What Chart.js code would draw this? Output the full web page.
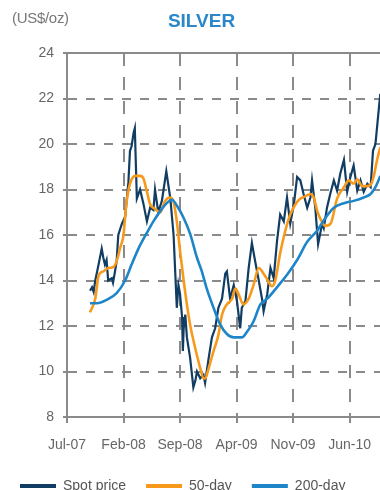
<!DOCTYPE html>
<html><head><meta charset="utf-8">
<script src="https://cdn.jsdelivr.net/npm/chart.js@4"></script>
<style>
html,body{margin:0;padding:0;background:#fff;overflow:hidden;}
#wrap{position:relative;width:385px;height:503px;}
#unit{position:absolute;left:12px;top:9px;font-size:15px;line-height:17px;font-family:'Liberation Sans',Arial,sans-serif;color:#777;letter-spacing:-0.3px;}
#title{position:absolute;left:0;width:403px;text-align:center;top:11px;font-weight:bold;font-size:19px;line-height:19px;font-family:'Liberation Sans',Arial,sans-serif;color:#2b87c9;}
canvas{position:absolute;left:0;top:0;}
</style></head>
<body>
<div id="wrap">
<canvas id="c" width="385" height="503"></canvas>
<div id="unit">(US$/oz)</div>
<div id="title">SILVER</div>
</div>
<script>
const tickMonths=[0,7,14,21,28,35];
const tickLabels=["Jul-07","Feb-08","Sep-08","Apr-09","Nov-09","Jun-10"];
const yTicks=[8,10,12,14,16,18,20,22,24];
const seriesNames=["Spot price","50-day","200-day"];

const spotMonths=[2.85,3.1,3.3,3.5,3.85,4.3,4.5,4.7,4.9,5.1,5.55,5.7,5.9,6.15,6.35,6.8,7.2,7.6,7.8,8.0,8.25,8.4,8.65,9.05,9.45,9.9,10.3,10.7,10.9,11.3,11.75,12.3,12.8,13.2,13.4,13.6,13.8,14.0,14.25,14.35,14.45,14.65,14.85,15.25,15.65,15.9,16.1,16.5,16.9,17.1,17.55,17.95,18.35,18.75,19.2,19.6,19.8,20.2,20.65,21.05,21.45,21.65,22.1,22.5,22.9,23.3,23.75,24.15,24.35,24.8,25.2,25.6,26.0,26.4,26.85,27.25,27.65,28.1,28.5,28.9,29.3,29.75,30.15,30.35,30.75,31.1,31.6,31.8,32.2,32.6,33.05,33.45,33.85,34.3,34.7,35.1,35.5,35.95,36.35,36.75,37.2,37.6,37.9,38.2,38.5,38.8,39.0];
const spotValues=[13.55,13.7,13.5,14.0,14.6,15.4,15.0,14.7,14.9,14.0,14.1,13.9,14.3,14.85,16.0,16.5,16.8,18.3,19.7,19.9,20.5,20.7,17.6,18.0,17.4,16.6,17.2,17.1,18.0,17.0,17.5,18.8,17.6,16.0,14.4,12.8,13.8,13.4,12.4,10.9,11.9,12.5,11.5,10.6,9.3,9.6,10.0,9.7,9.85,9.5,10.6,11.5,11.9,12.8,13.2,14.3,14.4,13.2,13.8,13.1,11.9,12.8,13.1,14.55,15.65,14.85,14.0,13.2,12.65,13.4,14.55,14.1,15.7,16.9,16.6,17.65,16.5,17.35,18.55,18.4,17.8,17.2,17.65,18.4,17.2,15.6,16.5,16.3,17.2,17.8,18.4,17.95,18.7,19.3,17.9,18.55,19.05,17.95,18.4,17.9,18.25,18.1,19.7,20.0,21.1,22.2,22.6];

const ma50Months=[2.85,3.5,3.9,4.5,5.1,5.75,6.15,6.6,7.0,7.2,7.4,7.8,8.45,9.05,9.45,9.9,10.3,10.9,11.55,12.15,12.8,13.2,13.6,14.0,14.45,14.85,15.25,15.9,16.5,16.9,17.1,17.55,18.15,18.75,19.2,19.8,20.45,20.85,21.25,21.85,22.5,23.1,23.75,24.35,24.8,25.4,25.8,26.4,27.05,27.65,28.3,28.9,29.5,30.15,30.55,31.0,31.4,32.0,32.65,33.45,34.3,34.9,35.5,35.95,36.55,37.2,37.6,38.0,38.4,38.8,39.0];
const ma50Values=[12.6,13.2,14.2,14.4,14.55,14.6,14.85,15.45,16.0,16.8,17.5,18.25,18.6,18.6,18.5,17.9,17.35,17.15,17.0,17.5,17.65,17.45,16.6,15.3,14.0,12.95,12.05,11.0,10.15,9.7,9.7,10.15,10.9,11.6,12.5,12.95,13.2,13.65,13.4,12.95,13.2,13.8,14.55,14.3,14.05,13.75,14.0,15.2,16.2,16.9,17.35,17.6,17.7,17.8,17.65,17.05,16.7,16.4,16.5,17.6,18.1,18.4,18.25,18.45,18.15,18.15,18.2,18.6,19.3,19.85,20.1];

const ma200Months=[2.85,3.7,4.9,6.15,7.2,8.0,8.85,9.9,10.7,11.55,12.35,13.0,13.6,14.45,15.25,16.1,16.7,17.3,18.15,19.0,19.8,20.65,21.65,22.3,23.1,23.95,24.8,26.0,27.25,28.5,29.75,31.0,32.0,33.05,34.3,35.5,36.75,37.6,38.2,38.8,39.0];
const ma200Values=[13.0,13.0,13.15,13.45,14.0,14.7,15.4,16.1,16.6,17.05,17.4,17.55,17.3,16.75,16.05,15.0,14.4,13.65,12.8,12.05,11.65,11.5,11.5,11.75,12.2,12.95,13.2,13.7,14.25,14.9,15.7,16.2,16.75,17.2,17.4,17.5,17.65,17.8,18.1,18.6,18.8];

const colors=["#123d63","#f79a1c","#1e86c8"];
const fam="'Liberation Sans',Arial,sans-serif";
const gridColor="#8a8a8a";

function pts(xs,ys){return xs.map((x,i)=>({x:x,y:ys[i]}));}

const topLine={id:'topLine',beforeDatasetsDraw(chart){
  const a=chart.chartArea,ctx=chart.ctx;
  const y=chart.scales.y.getPixelForValue(yTicks[yTicks.length-1]);
  ctx.save();ctx.strokeStyle=gridColor;ctx.lineWidth=2;ctx.setLineDash([]);
  ctx.beginPath();ctx.moveTo(a.left,y);ctx.lineTo(a.right,y);ctx.stroke();ctx.restore();
}};

new Chart(document.getElementById('c'),{
  type:'line',
  data:{datasets:[
    {label:seriesNames[0],data:pts(spotMonths,spotValues),borderColor:colors[0],backgroundColor:colors[0],borderWidth:2.2,pointRadius:0,tension:0,order:3},
    {label:seriesNames[1],data:pts(ma50Months,ma50Values),borderColor:colors[1],backgroundColor:colors[1],borderWidth:2.6,pointRadius:0,cubicInterpolationMode:'monotone',order:2},
    {label:seriesNames[2],data:pts(ma200Months,ma200Values),borderColor:colors[2],backgroundColor:colors[2],borderWidth:2.6,pointRadius:0,cubicInterpolationMode:'monotone',order:1}
  ]},
  plugins:[topLine],
  options:{
    responsive:false,animation:false,
    layout:{padding:{left:0,right:0,top:53,bottom:0}},
    plugins:{
      title:{display:false},tooltip:{enabled:false},
      legend:{display:true,position:'bottom',align:'start',
        labels:{boxWidth:36,boxHeight:4,padding:20,color:'#555',font:{family:fam,size:14},
          sort:(a,b)=>a.datasetIndex-b.datasetIndex,
          generateLabels:(chart)=>{
            const items=Chart.defaults.plugins.legend.labels.generateLabels(chart);
            items.forEach(it=>{it.lineWidth=0;it.fillStyle=colors[it.datasetIndex];it.strokeStyle=colors[it.datasetIndex];});
            return items;
          }}}
    },
    scales:{
      x:{type:'linear',position:'bottom',min:0,max:38.8,
        afterBuildTicks:s=>{s.ticks=tickMonths.map(v=>({value:v}));},
        afterFit:s=>{s.height=42;},
        ticks:{autoSkip:false,maxRotation:0,padding:14,color:'#666',font:{family:fam,size:14},
          callback:v=>{const i=tickMonths.indexOf(v);return i>=0?tickLabels[i]:'';}},
        grid:{color:gridColor,lineWidth:2,tickLength:6,drawTicks:true,tickColor:gridColor,tickWidth:2},
        border:{display:true,color:gridColor,width:2,dash:[13,11]}
      },
      y:{type:'linear',min:8,max:24,
        afterBuildTicks:s=>{s.ticks=yTicks.map(v=>({value:v}));},
        afterFit:s=>{s.width=67;},
        ticks:{padding:9,color:'#666',font:{family:fam,size:14}},
        grid:{color:gridColor,lineWidth:2,tickLength:4,drawTicks:true,tickColor:gridColor,tickWidth:2},
        border:{display:true,color:gridColor,width:2,dash:[9,9]}
      }
    }
  }
});
</script>
</body></html>
